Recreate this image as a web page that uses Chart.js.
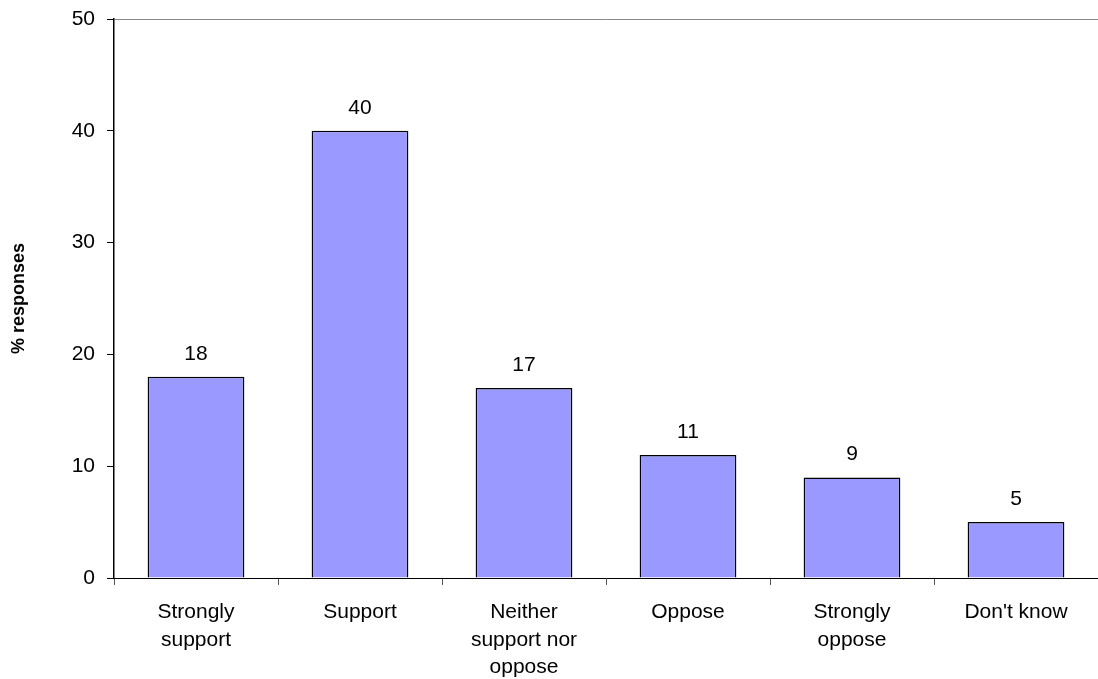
<!DOCTYPE html>
<html>
<head>
<meta charset="utf-8">
<script src="https://cdn.jsdelivr.net/npm/chart.js@4.4.1/dist/chart.umd.min.js"></script>
<style>
  html, body { margin: 0; padding: 0; background: #fff; }
  #wrap { width: 1098px; height: 679px; }
</style>
</head>
<body>
<div id="wrap"><canvas id="opinionChart"></canvas></div>
<script>
// categorias e percentagens
const categories = [
    ['Strongly', 'support'],
    'Support',
    ['Neither', 'support nor', 'oppose'],
    'Oppose',
    ['Strongly', 'oppose'],
    "Don't know"
];
const responses = [18, 40, 17, 11, 9, 5];
const yTicks = [0, 10, 20, 30, 40, 50];

Chart.defaults.font.family = "Arial, 'Liberation Sans', sans-serif";
Chart.defaults.color = '#000';

// escreve o valor por cima de cada barra
const valueLabels = {
    id: 'valueLabels',
    afterDatasetsDraw(chart) {
        const ctx = chart.ctx;
        const meta = chart.getDatasetMeta(0);
        ctx.save();
        ctx.font = "21px Arial, 'Liberation Sans', sans-serif";
        ctx.fillStyle = '#000';
        ctx.textAlign = 'center';
        ctx.textBaseline = 'alphabetic';
        meta.data.forEach((bar, i) => {
            ctx.fillText(String(responses[i]), bar.x, bar.y - 17);
        });
        ctx.restore();
    }
};

const ctx = document.getElementById('opinionChart').getContext('2d');
new Chart(ctx, {
    type: 'bar',
    data: {
        labels: categories,
        datasets: [{
            data: responses,
            backgroundColor: '#9999ff',
            borderColor: '#000',
            borderWidth: 1.5,
            barPercentage: 0.59,
            categoryPercentage: 1
        }]
    },
    options: {
        responsive: true,
        maintainAspectRatio: false,
        animation: false,
        layout: { padding: { top: 19, right: 0, left: 0, bottom: 0 } },
        plugins: {
            legend: { display: false },
            tooltip: { enabled: false }
        },
        scales: {
            x: {
                grid: {
                    offset: true,
                    drawOnChartArea: false,
                    tickLength: 7,
                    tickColor: '#555',
                    tickWidth: 1
                },
                border: { color: '#000', width: 1 },
                ticks: {
                    maxRotation: 0,
                    autoSkip: false,
                    padding: 14,
                    font: { size: 21, lineHeight: 1.3 }
                },
                afterFit(scale) { scale.height = 101; }
            },
            y: {
                min: 0,
                max: 50,
                afterBuildTicks(scale) {
                    scale.ticks = yTicks.map(v => ({ value: v }));
                },
                grid: {
                    color: c => (c.tick && c.tick.value === 50 ? '#888' : 'rgba(0,0,0,0)'),
                    tickColor: '#000',
                    tickLength: 7,
                    lineWidth: 1
                },
                border: { color: '#000', width: 1.5 },
                ticks: {
                    padding: 12,
                    font: { size: 21 }
                },
                title: {
                    display: true,
                    text: '% responses',
                    font: { size: 18, weight: 'bold' },
                    padding: { top: 8, bottom: 0 }
                },
                afterFit(scale) {
                    scale.width = 114;
                    scale.paddingTop = 0;
                    scale.paddingBottom = 0;
                }
            }
        }
    },
    plugins: [valueLabels]
});
</script>
</body>
</html>
